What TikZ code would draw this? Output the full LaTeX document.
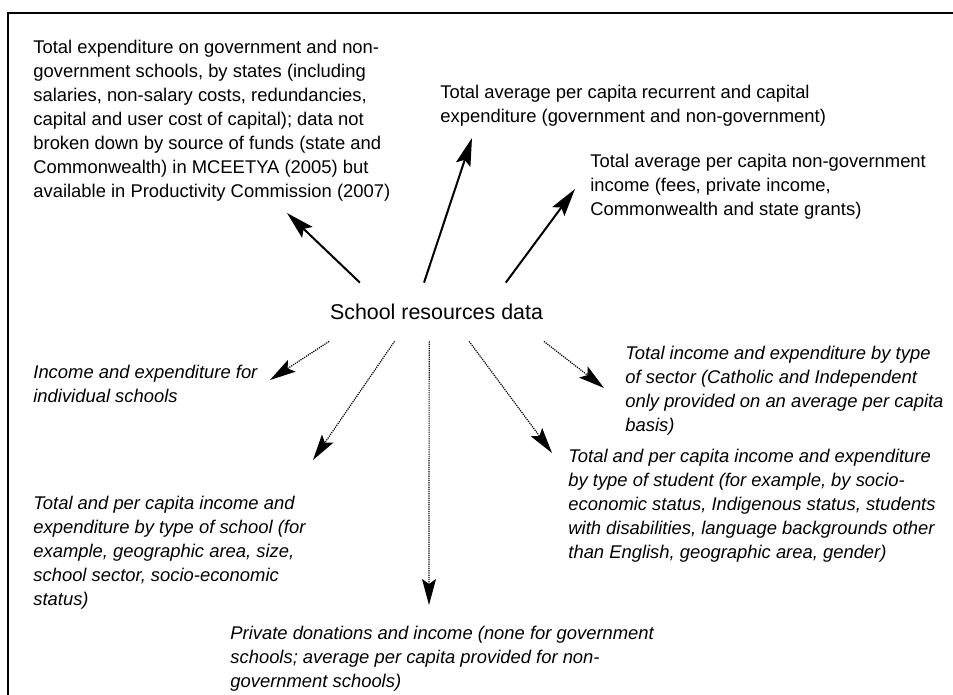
\documentclass[tikz,border=0pt]{standalone}
\usepackage{fontspec}
\setmainfont{Liberation Sans}
\usetikzlibrary{arrows.meta}

\tikzset{
  note/.style={anchor=north west,inner sep=0pt,align=left,
    font=\fontsize{9.2pt}{12pt}\selectfont},
  inote/.style={note,font=\fontsize{9.2pt}{12pt}\selectfont\itshape},
  hub/.style={inner sep=0pt,minimum width=107pt,minimum height=29pt,
    font=\fontsize{10.7pt}{13pt}\selectfont},
  boldarr/.style={line width=1pt,-{Stealth[length=14pt,width=7.5pt,inset=2.5pt]}},
  dotarr/.style={line width=0.6pt,dash pattern=on 0.6pt off 0.5pt,
    -{Stealth[length=13pt,width=7pt,inset=2.5pt]}}
}

\begin{document}
\begin{tikzpicture}[x=0.5pt,y=-0.5pt]
  \useasboundingbox (0,0) rectangle (953,695);
  \draw[line width=1pt] (8,695) -- (8,13) -- (953,13);

  \node[hub] (src) at (436.5,312) {School resources data};

  % what is reported for each state
  \node[note] (exp) at (33,39.5) {Total expenditure on government and non-\\
    government schools, by states (including\\
    salaries, non-salary costs, redundancies,\\
    capital and user cost of capital); data not\\
    broken down by source of funds (state and\\
    Commonwealth) in MCEETYA (2005) but\\
    available in Productivity Commission (2007)};
  \node[note] (rec) at (440,84.5) {Total average per capita recurrent and capital\\
    expenditure (government and non-government)};
  \node[note] (gov) at (590,153.5) {Total average per capita non-government\\
    income (fees, private income,\\
    Commonwealth and state grants)};

  % what is not reported
  \node[inote] (ind) at (33,364.5) {Income and expenditure for\\
    individual schools};
  \node[inote] (sec) at (625,345.5) {Total income and expenditure by type\\
    of sector (Catholic and Independent\\
    only provided on an average per capita\\
    basis)};
  \node[inote] (stu) at (568,448.5) {Total and per capita income and expenditure\\
    by type of student (for example, by socio-\\
    economic status, Indigenous status, students\\
    with disabilities, language backgrounds other\\
    than English, geographic area, gender)};
  \node[inote] (sch) at (33,495.5) {Total and per capita income and\\
    expenditure by type of school (for\\
    example, geographic area, size,\\
    school sector, socio-economic\\
    status)};
  \node[inote] (don) at (230,625.5) {Private donations and income (none for government\\
    schools; average per capita provided for non-\\
    government schools)};

  \coordinate (tExp) at (287,213);
  \coordinate (tRec) at (472,138);
  \coordinate (tGov) at (575,189);
  \coordinate (tInd) at (270,380);
  \coordinate (tSch) at (313,460);
  \coordinate (tDon) at (429,605);
  \coordinate (tStu) at (552,453);
  \coordinate (tSec) at (604,388);

  \foreach \a/\t in {159/tExp,113/tRec,23/tGov}{%
    \draw[boldarr] (src.\a) -- (\t);
  }
  \foreach \a/\t in {south west/tInd,215/tSch,256/tDon,318/tStu,south east/tSec}{%
    \draw[dotarr] (src.\a) -- (\t);
  }
\end{tikzpicture}
\end{document}
